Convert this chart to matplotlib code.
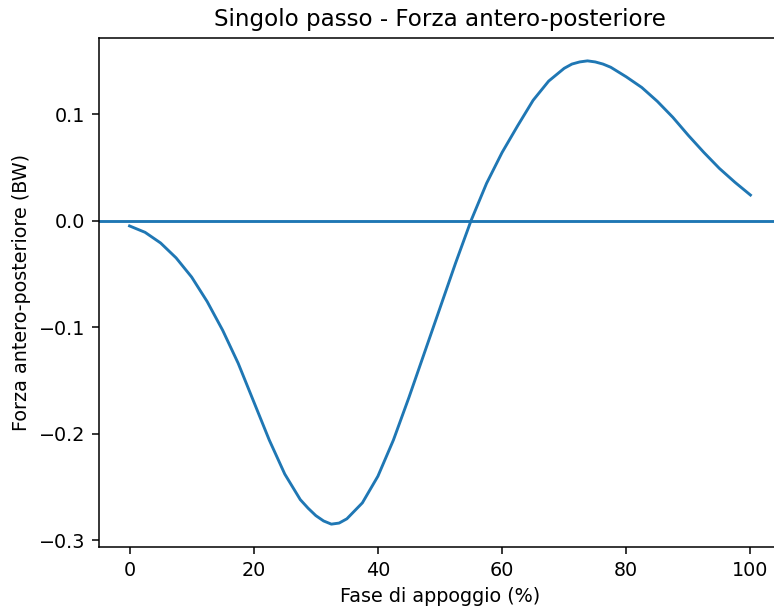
import matplotlib
matplotlib.use("Agg")
import matplotlib.pyplot as plt

# ==== Dati: forza antero-posteriore lungo la fase di appoggio ====
fase = [0, 2.5, 5, 7.5, 10, 12.5, 15, 17.5, 20, 22.5,
        25, 27.5, 28.75, 30, 31.25, 32.5, 33.75, 35, 37.5, 40, 42.5, 45, 47.5,
        50, 52.5, 55, 57.5, 60, 62.5, 65, 67.5, 70, 71.25, 72.5, 73.75,
        75, 76.25, 77.5, 80, 82.5, 85, 87.5, 90, 92.5, 95, 97.5, 100]
forza_ap = [-0.005, -0.011, -0.021, -0.035, -0.053, -0.076, -0.103, -0.134, -0.170, -0.206,
            -0.238, -0.262, -0.270, -0.277, -0.282, -0.285, -0.284, -0.280, -0.265, -0.240,
            -0.206, -0.166, -0.124,
            -0.082, -0.040, 0.000, 0.035, 0.064, 0.089, 0.113, 0.131, 0.143, 0.147, 0.149, 0.150,
            0.149, 0.147, 0.144, 0.135, 0.125, 0.112, 0.097, 0.080, 0.064, 0.049, 0.036, 0.024]

DPI = 138
fig = plt.figure(figsize=(774 / DPI, 607 / DPI), dpi=DPI)
ax = fig.add_axes([98.5 / 774, (607 - 547.3) / 607, 683 / 774, 509.6 / 607])

# ==== Plot ====
ax.plot(fase, forza_ap, color="C0")
ax.axhline(0, color="C0")
ax.set_title("Singolo passo - Forza antero-posteriore")
ax.set_xlabel("Fase di appoggio (%)")
ax.set_ylabel("Forza antero-posteriore (BW)")

fig.savefig("out.png", dpi=DPI)
